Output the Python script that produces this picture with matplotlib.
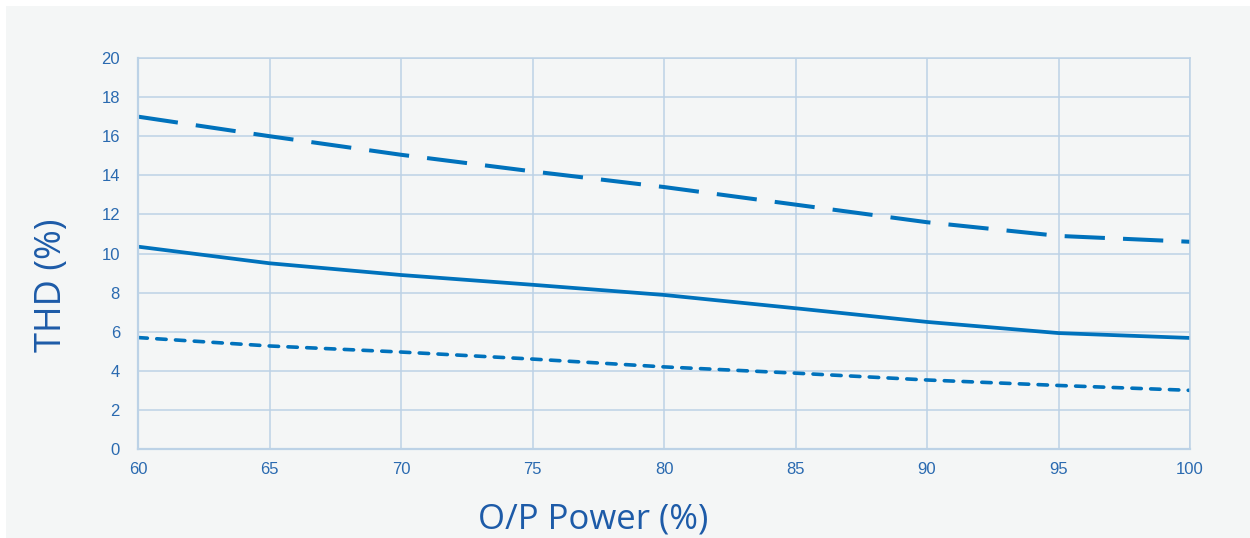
import matplotlib
matplotlib.use('Agg')
import matplotlib.pyplot as plt
from matplotlib.patches import Rectangle

# O/P power (%) vs THD (%)
power = [60, 65, 70, 75, 80, 85, 90, 95, 100]
thd_dashed = [17.0, 16.0, 15.05, 14.2, 13.4, 12.5, 11.6, 10.9, 10.6]
thd_solid = [10.35, 9.5, 8.9, 8.4, 7.88, 7.2, 6.5, 5.93, 5.68]
thd_dotted = [5.7, 5.27, 4.96, 4.6, 4.2, 3.88, 3.53, 3.25, 3.0]

x_ticks = [60, 65, 70, 75, 80, 85, 90, 95, 100]
y_ticks = [0, 2, 4, 6, 8, 10, 12, 14, 16, 18, 20]

line_col = '#0072bc'
grid_col = '#bcd2e6'
tick_col = '#2a6ab0'
label_col = '#1d5ba8'
bg_col = '#f4f6f6'

fig = plt.figure(figsize=(12.5, 5.38), dpi=100)
fig.patch.set_facecolor('white')
# light grey panel behind everything
fig.patches.append(Rectangle((6 / 1250, 0), 1244 / 1250, 532 / 538,
                             transform=fig.transFigure, facecolor=bg_col,
                             edgecolor='none', zorder=-5))

ax = fig.add_axes([138 / 1250, 89 / 538, 1052 / 1250, 391 / 538])
ax.set_facecolor(bg_col)

ax.plot(power, thd_dashed, color=line_col, lw=2.9, linestyle=(0, (10, 4.5)))
ax.plot(power, thd_solid, color=line_col, lw=2.7)
ax.plot(power, thd_dotted, color=line_col, lw=2.6, linestyle=(0, (2.6, 2.6)),
        dash_capstyle='round')

ax.set_xlim(60, 100)
ax.set_ylim(0, 20)
ax.set_xticks(x_ticks)
ax.set_yticks(y_ticks)
ax.grid(True, color=grid_col, lw=1.1)
ax.set_axisbelow(True)
for s in ax.spines.values():
    s.set_color(grid_col)
    s.set_linewidth(1.1)
ax.spines['bottom'].set_linewidth(1.6)
ax.spines['left'].set_linewidth(1.6)
ax.tick_params(length=0, labelcolor=tick_col, labelsize=12)
ax.tick_params(axis='y', pad=13)
ax.tick_params(axis='x', pad=9)
for lab in ax.get_xticklabels() + ax.get_yticklabels():
    lab.set_fontfamily('Liberation Sans')

fig.text(52 / 1250, 1 - 285 / 538, 'THD (%)', rotation=90, ha='center', va='center',
         fontsize=26, color=label_col, family='Open Sans')
fig.text(593 / 1250, 1 - 520 / 538, 'O/P Power (%)', ha='center', va='center',
         fontsize=25, color=label_col, family='Open Sans')

fig.savefig('out.png', dpi=100, facecolor='white')
